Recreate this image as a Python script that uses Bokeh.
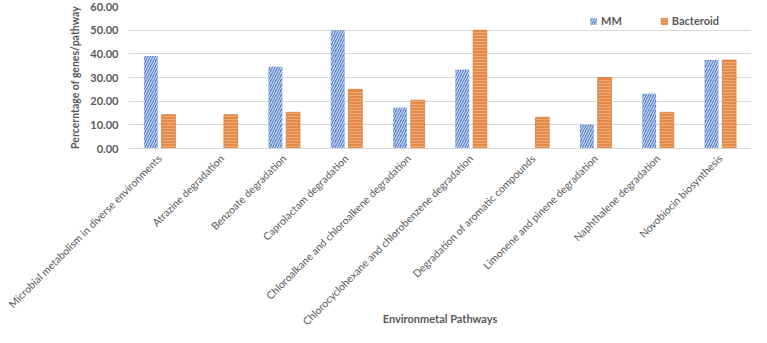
import math
from bokeh.plotting import figure
from bokeh.models import (ColumnDataSource, FactorRange, Range1d,
                          Legend, LegendItem, FixedTicker, NumeralTickFormatter)
from bokeh.transform import dodge
from bokeh.embed import file_html
from bokeh.resources import INLINE

pathways = [
    "Microbial metabolism in diverse environments",
    "Atrazine degradation",
    "Benzoate degradation",
    "Caprolactam degradation",
    "Chloroalkane and chloroalkene degradation",
    "Chlorocyclohexane and chlorobenzene degradation",
    "Degradation of aromatic compounds",
    "Limonene and pinene degradation",
    "Naphthalene degradation",
    "Novobiocin biosynthesis",
]
mm = [39.13, 0.0, 34.5, 50.0, 17.2, 33.3, 0.0, 10.0, 23.1, 37.4]
bacteroid = [14.29, 14.29, 15.3, 25.0, 20.4, 50.0, 13.2, 30.0, 15.3, 37.4]
y_ticks = [0, 10, 20, 30, 40, 50, 60]

FONT = "Lato"
GREY = "#595959"

src = ColumnDataSource(dict(cat=pathways, mm=mm, bac=bacteroid))

p = figure(width=751, height=327, x_range=FactorRange(*pathways),
           y_range=Range1d(0, 60), output_backend="svg", toolbar_location=None,
           min_border_top=6, min_border_left=128, min_border_right=0,
           min_border_bottom=0)
p.outline_line_color = None

r1 = p.vbar(x=dodge("cat", -0.142, range=p.x_range), top="mm", width=0.22, source=src,
            fill_color="#4A78C8", line_color=None,
            hatch_pattern="right_diagonal_line", hatch_color="#FFFFFF", hatch_alpha=0.7,
            hatch_scale=5, hatch_weight=1.3)
r2 = p.vbar(x=dodge("cat", 0.142, range=p.x_range), top="bac", width=0.22, source=src,
            fill_color="#E38A4B", line_color="#D9803F", line_width=0.8,
            hatch_pattern="horizontal_line", hatch_color="#F4B07C", hatch_alpha=0.9,
            hatch_scale=3, hatch_weight=1)

p.xgrid.grid_line_color = None
p.ygrid.grid_line_color = "#D9D9D9"
p.ygrid.grid_line_width = 1
p.ygrid.ticker = FixedTicker(ticks=y_ticks)

p.yaxis.ticker = FixedTicker(ticks=y_ticks)
p.yaxis.formatter = NumeralTickFormatter(format="0.00")
p.yaxis.axis_line_color = None
p.yaxis.major_tick_line_color = None
p.yaxis.minor_tick_line_color = None
p.yaxis.major_label_text_font = FONT
p.yaxis.major_label_text_font_size = "11px"
p.yaxis.major_label_text_font_style = "bold"
p.yaxis.major_label_text_color = GREY
p.yaxis.major_label_standoff = 4
p.yaxis.axis_label = "Percerntage of genes/pathway"
p.yaxis.axis_label_text_font = FONT
p.yaxis.axis_label_text_font_size = "10.5px"
p.yaxis.axis_label_text_font_style = "bold"
p.yaxis.axis_label_text_color = GREY
p.yaxis.axis_label_standoff = 6

p.xaxis.axis_line_color = "#D9D9D9"
p.xaxis.major_tick_line_color = None
p.xaxis.minor_tick_line_color = None
p.xaxis.major_label_orientation = math.pi / 4
p.xaxis.major_label_text_font = FONT
p.xaxis.major_label_text_font_size = "10.5px"
p.xaxis.major_label_text_color = GREY
p.xaxis.major_label_standoff = 2
p.xaxis.axis_label = "Environmetal Pathways"
p.xaxis.axis_label_text_font = FONT
p.xaxis.axis_label_text_font_size = "11px"
p.xaxis.axis_label_text_font_style = "bold"
p.xaxis.axis_label_text_color = GREY
p.xaxis.axis_label_standoff = -23

legend = Legend(items=[LegendItem(label="MM", renderers=[r1]),
                       LegendItem(label="Bacteroid", renderers=[r2])],
                orientation="horizontal", location=(461, 121))
legend.background_fill_alpha = 0
legend.border_line_color = None
legend.glyph_width = 8
legend.glyph_height = 8
legend.label_text_font = FONT
legend.label_text_font_size = "11px"
legend.label_text_font_style = "bold"
legend.label_text_color = GREY
legend.label_standoff = 4
legend.spacing = 38
legend.padding = 0
legend.margin = 0
legend.label_height = 12
p.add_layout(legend)

open("out.html", "w").write(file_html(p, INLINE))
